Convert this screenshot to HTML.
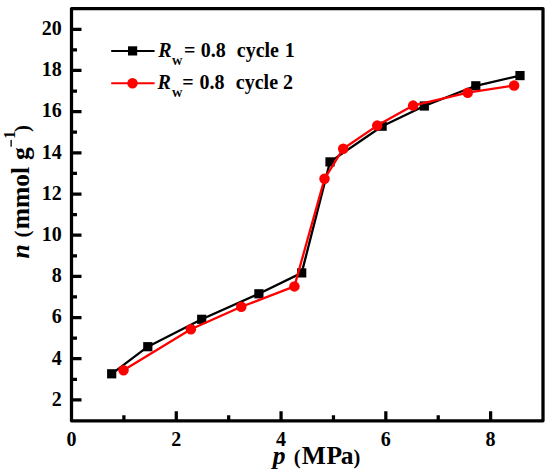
<!DOCTYPE html><html><head><meta charset="utf-8"><style>html,body{margin:0;padding:0;background:#fff;}svg{display:block;}</style></head><body>
<svg width="550" height="475" viewBox="0 0 550 475">
<rect x="0" y="0" width="550" height="475" fill="#fff"/>
<path d="M71.50 399.91H81.50 M71.50 379.32H77.00 M71.50 358.73H81.50 M71.50 338.14H77.00 M71.50 317.55H81.50 M71.50 296.96H77.00 M71.50 276.37H81.50 M71.50 255.78H77.00 M71.50 235.19H81.50 M71.50 214.60H77.00 M71.50 194.01H81.50 M71.50 173.42H77.00 M71.50 152.83H81.50 M71.50 132.24H77.00 M71.50 111.65H81.50 M71.50 91.06H77.00 M71.50 70.47H81.50 M71.50 49.88H77.00 M71.50 29.29H81.50 M123.89 420.50V415.30 M176.28 420.50V411.30 M228.67 420.50V415.30 M281.06 420.50V411.30 M333.45 420.50V415.30 M385.84 420.50V411.30 M438.23 420.50V415.30 M490.62 420.50V411.30" stroke="#000" stroke-width="3.25" fill="none"/>
<rect x="71.5" y="8.7" width="471.5" height="412.1" fill="none" stroke="#000" stroke-width="3.25" stroke-linejoin="round"/>
<g font-family="'Liberation Serif', serif" font-weight="bold" font-size="20" fill="#000"><text x="61.8" y="405.71" text-anchor="end">2</text><text x="61.8" y="364.53" text-anchor="end">4</text><text x="61.8" y="323.35" text-anchor="end">6</text><text x="61.8" y="282.17" text-anchor="end">8</text><text x="61.8" y="240.99" text-anchor="end">10</text><text x="61.8" y="199.81" text-anchor="end">12</text><text x="61.8" y="158.63" text-anchor="end">14</text><text x="61.8" y="117.45" text-anchor="end">16</text><text x="61.8" y="76.27" text-anchor="end">18</text><text x="61.8" y="35.09" text-anchor="end">20</text><text x="71.50" y="445.7" text-anchor="middle">0</text><text x="176.28" y="445.7" text-anchor="middle">2</text><text x="281.06" y="445.7" text-anchor="middle">4</text><text x="385.84" y="445.7" text-anchor="middle">6</text><text x="490.62" y="445.7" text-anchor="middle">8</text></g>
<polyline points="111.7,373.8 147.8,346.7 201.7,319.3 258.9,293.8 301.7,272.9 330.0,161.9 382.1,126.2 424.3,106.0 475.8,85.8 520.0,75.6" fill="none" stroke="#000" stroke-width="2.3" stroke-linejoin="round"/>
<g fill="#000"><rect x="107.10" y="369.20" width="9.2" height="9.2"/><rect x="143.20" y="342.10" width="9.2" height="9.2"/><rect x="197.10" y="314.70" width="9.2" height="9.2"/><rect x="254.30" y="289.20" width="9.2" height="9.2"/><rect x="297.10" y="268.30" width="9.2" height="9.2"/><rect x="325.40" y="157.30" width="9.2" height="9.2"/><rect x="377.50" y="121.60" width="9.2" height="9.2"/><rect x="419.70" y="101.40" width="9.2" height="9.2"/><rect x="471.20" y="81.20" width="9.2" height="9.2"/><rect x="515.40" y="71.00" width="9.2" height="9.2"/></g>
<polyline points="123.5,370.3 190.9,329.3 241.3,306.8 294.4,286.4 324.5,178.8 343.2,148.7 377.2,125.6 413.1,105.6 467.7,92.7 514.1,85.5" fill="none" stroke="#f00" stroke-width="2.3" stroke-linejoin="round"/>
<g fill="#f00"><circle cx="123.5" cy="370.3" r="5.25"/><circle cx="190.9" cy="329.3" r="5.25"/><circle cx="241.3" cy="306.8" r="5.25"/><circle cx="294.4" cy="286.4" r="5.25"/><circle cx="324.5" cy="178.8" r="5.25"/><circle cx="343.2" cy="148.7" r="5.25"/><circle cx="377.2" cy="125.6" r="5.25"/><circle cx="413.1" cy="105.6" r="5.25"/><circle cx="467.7" cy="92.7" r="5.25"/><circle cx="514.1" cy="85.5" r="5.25"/></g>
<path d="M111.2 50.9H154.6" stroke="#000" stroke-width="2"/>
<rect x="128.00" y="46.30" width="9.2" height="9.2" fill="#000"/>
<path d="M111.2 83.3H154.6" stroke="#f00" stroke-width="2"/>
<circle cx="132.5" cy="83.3" r="5.25" fill="#f00"/>
<g font-family="'Liberation Serif', serif" fill="#000">
<text x="272.75" y="463.70" font-size="25.5" font-weight="bold" font-style="italic">p</text>
<text x="293.72" y="463.70" font-size="20.5" font-weight="bold" font-style="normal">(</text>
<text x="301.72" y="463.70" font-size="25.5" font-weight="bold" font-style="normal">M</text>
<text x="326.42" y="463.70" font-size="25.5" font-weight="bold" font-style="normal">P</text>
<text x="340.72" y="463.70" font-size="25.5" font-weight="bold" font-style="normal">a</text>
<text x="353.38" y="463.70" font-size="20.5" font-weight="bold" font-style="normal">)</text>
<text x="158.30" y="56.80" font-size="20" font-weight="bold" font-style="italic">R</text>
<text x="171.68" y="64.50" font-size="10.8" font-weight="bold" font-style="normal">W</text>
<text x="183.90" y="56.80" font-size="20" font-weight="bold" font-style="normal">=</text>
<text x="200.75" y="56.80" font-size="20" font-weight="bold" font-style="normal">0.8</text>
<text x="236.75" y="56.80" font-size="20" font-weight="bold" font-style="normal">cycle</text>
<text x="284.68" y="56.80" font-size="20" font-weight="bold" font-style="normal">1</text>
<text x="157.50" y="89.20" font-size="20" font-weight="bold" font-style="italic">R</text>
<text x="171.68" y="96.60" font-size="10.8" font-weight="bold" font-style="normal">W</text>
<text x="182.30" y="89.20" font-size="20" font-weight="bold" font-style="normal">=</text>
<text x="199.55" y="89.20" font-size="20" font-weight="bold" font-style="normal">0.8</text>
<text x="235.85" y="89.20" font-size="20" font-weight="bold" font-style="normal">cycle</text>
<text x="283.12" y="89.20" font-size="20" font-weight="bold" font-style="normal">2</text>
<text transform="translate(29.00 258.50) rotate(-90)" font-size="25.5" font-weight="bold" font-style="italic">n</text>
<text transform="translate(29.00 237.48) rotate(-90)" font-size="21" font-weight="bold" font-style="normal">(</text>
<text transform="translate(29.00 229.32) rotate(-90)" font-size="25.5" font-weight="bold" font-style="normal">mmol</text>
<text transform="translate(29.00 159.92) rotate(-90)" font-size="25.5" font-weight="bold" font-style="normal">g</text>
<text transform="translate(14.90 138.85) rotate(-90)" font-size="16" font-weight="bold" font-style="normal">1</text>
<text transform="translate(29.00 131.92) rotate(-90)" font-size="21" font-weight="bold" font-style="normal">)</text>
<rect x="10.4" y="139.9" width="1.5" height="6.8" fill="#222"/>
</g>
</svg></body></html>
